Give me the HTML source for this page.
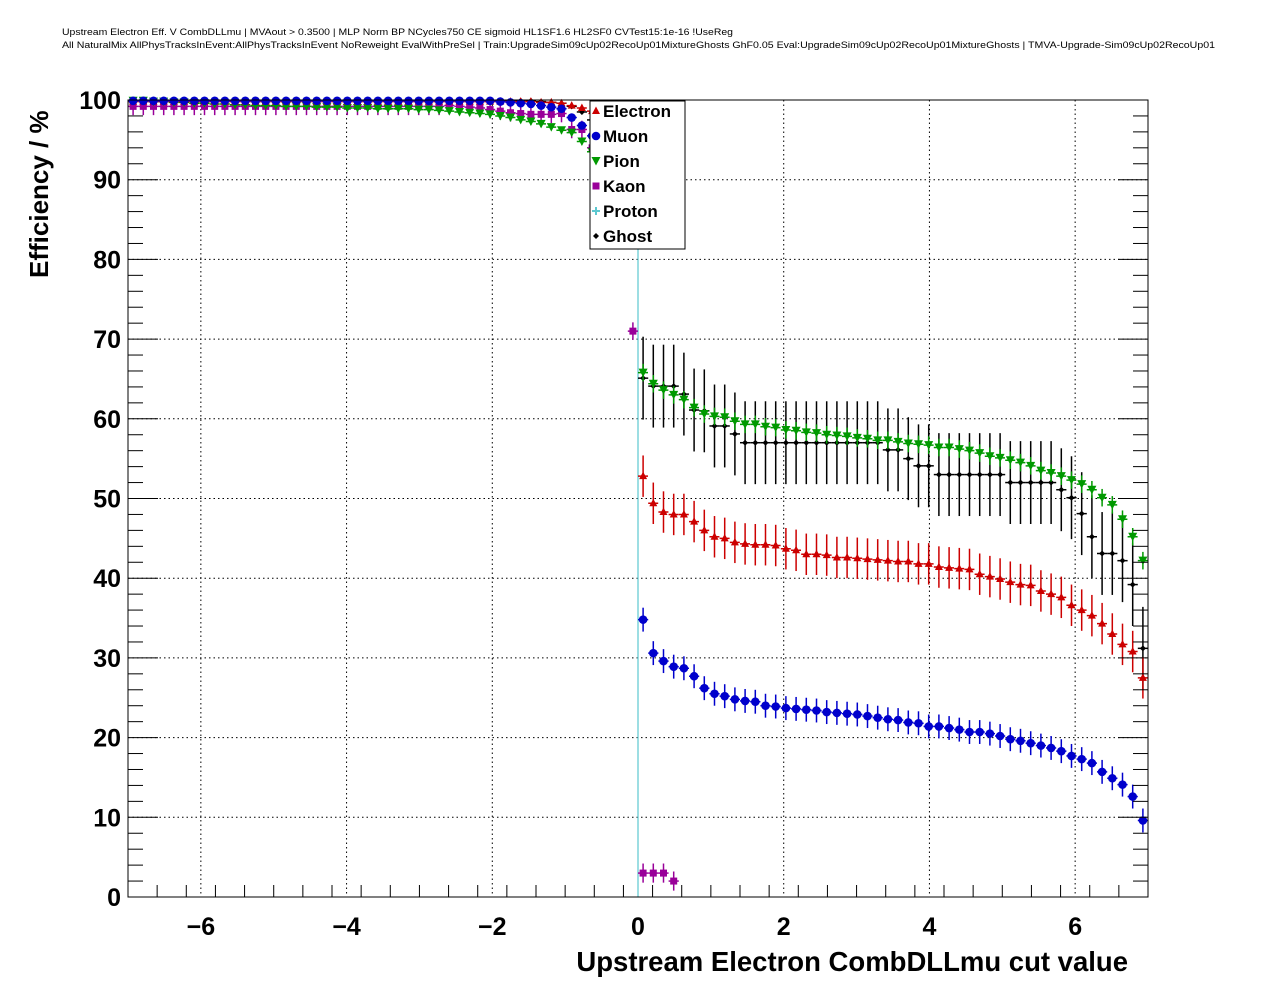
<!DOCTYPE html>
<html><head><meta charset="utf-8"><style>
html,body{margin:0;padding:0;background:#fff}
svg{display:block;font-family:"Liberation Sans",Arial,sans-serif}
</style></head><body>
<svg id="chart" width="1276" height="996" viewBox="0 0 1276 996" xmlns="http://www.w3.org/2000/svg">
<text x="62" y="35" font-size="9" textLength="671" lengthAdjust="spacingAndGlyphs">Upstream Electron Eff. V CombDLLmu | MVAout &gt; 0.3500 | MLP Norm BP NCycles750 CE sigmoid HL1SF1.6 HL2SF0 CVTest15:1e-16 !UseReg</text>
<text x="62" y="48" font-size="9" textLength="1153" lengthAdjust="spacingAndGlyphs">All NaturalMix AllPhysTracksInEvent:AllPhysTracksInEvent NoReweight EvalWithPreSel | Train:UpgradeSim09cUp02RecoUp01MixtureGhosts GhF0.05 Eval:UpgradeSim09cUp02RecoUp01MixtureGhosts | TMVA-Upgrade-Sim09cUp02RecoUp01</text>
<rect x="128" y="100" width="1020" height="797" fill="#fff"/>
<g id="grid"></g>
<g id="marks"></g>
<rect x="128" y="100" width="1020" height="797" fill="none" stroke="#000" stroke-width="1"/>
<g id="axes"></g>
<text x="1128" y="971" font-size="27.5" font-weight="bold" text-anchor="end">Upstream Electron CombDLLmu cut value</text>
<text transform="translate(48,278) rotate(-90)" font-size="26" font-weight="bold">Efficiency / %</text>
<g id="legend"></g>
</svg>
<script>
const xTicks = [-6,-4,-2,0,2,4,6];
const xTickLabels = ["\u22126","\u22124","\u22122","0","2","4","6"];
const yTicks = [0,10,20,30,40,50,60,70,80,90,100];
const binWidth = 0.14;
const nBins = 100;
const electronNeg = [99.8,99.8,99.8,99.8,99.8,99.8,99.8,99.8,99.8,99.8,99.8,99.8,99.8,99.8,99.8,99.8,99.8,99.8,99.8,99.8,99.8,99.8,99.8,99.8,99.8,99.8,99.8,99.8,99.8,99.8,99.8,99.8,99.8,99.8,99.8,99.8,99.8,99.8,99.8,99.8,99.7,99.7,99.6,99.3,99.0,98.6,98.2,97.8,97.4,97.0];
const electronPos = [52.8,49.4,48.3,48.0,48.0,47.1,46.0,45.2,45.0,44.5,44.3,44.2,44.2,44.1,43.7,43.5,43.0,43.0,42.9,42.6,42.6,42.5,42.4,42.3,42.2,42.1,42.1,41.8,41.8,41.4,41.3,41.2,41.1,40.5,40.2,39.9,39.5,39.2,39.1,38.4,38.0,37.6,36.6,36.0,35.3,34.3,33.0,31.7,30.8,27.5];
const muonNeg = [99.9,99.9,99.9,99.9,99.9,99.9,99.9,99.9,99.9,99.9,99.9,99.9,99.9,99.9,99.9,99.9,99.9,99.9,99.9,99.9,99.9,99.9,99.9,99.9,99.9,99.9,99.9,99.9,99.9,99.9,99.9,99.9,99.9,99.9,99.9,99.9,99.8,99.7,99.6,99.5,99.3,99.1,98.9,97.8,96.8,95.5,94.0,92.0,90.0,88.0];
const muonPos = [34.8,30.6,29.6,28.9,28.7,27.7,26.2,25.5,25.2,24.8,24.6,24.5,24.0,23.9,23.7,23.6,23.5,23.4,23.2,23.1,23.0,22.9,22.7,22.5,22.3,22.2,21.9,21.8,21.4,21.4,21.2,21.0,20.7,20.7,20.5,20.2,19.8,19.6,19.3,19.0,18.7,18.3,17.7,17.3,16.8,15.7,14.9,14.1,12.6,9.6];
const pionNeg = [99.9,99.9,99.8,99.8,99.7,99.7,99.6,99.6,99.5,99.5,99.4,99.4,99.3,99.3,99.3,99.2,99.2,99.2,99.1,99.1,99.1,99.0,99.0,99.0,98.9,98.9,98.9,98.9,98.8,98.8,98.7,98.6,98.5,98.4,98.3,98.2,98.0,97.8,97.5,97.3,97.0,96.6,96.2,95.9,94.8,93.5,92.0,90.0,88.0,86.0];
const pionPos = [65.8,64.4,63.6,63.0,62.4,61.4,60.6,60.3,60.2,59.7,59.3,59.3,59.0,58.9,58.6,58.5,58.3,58.2,58.0,57.9,57.8,57.6,57.5,57.3,57.3,57.1,56.9,56.8,56.7,56.4,56.4,56.2,56.0,55.7,55.3,55.1,54.8,54.5,54.1,53.5,53.2,52.8,52.3,51.8,51.1,50.1,49.2,47.4,45.2,42.2];
const kaonNeg = [99.2,99.2,99.2,99.2,99.2,99.2,99.2,99.2,99.2,99.2,99.2,99.2,99.2,99.2,99.2,99.2,99.2,99.2,99.2,99.2,99.2,99.2,99.2,99.2,99.2,99.2,99.2,99.2,99.2,99.2,99.2,99.3,99.2,99.1,99.0,98.8,98.6,98.4,98.3,98.2,98.2,98.2,98.3,96.3,96.3,94.0,92.0,90.0,88.0,71.0];
const kaonPos = [3.0,3.0,3.0,2.0];
const ghostNeg = [99.9,99.9,99.9,99.9,99.9,99.9,99.9,99.9,99.9,99.9,99.9,99.9,99.9,99.9,99.9,99.9,99.9,99.9,99.9,99.9,99.9,99.9,99.9,99.9,99.9,99.9,99.9,99.9,99.9,99.9,99.9,99.9,99.9,99.9,99.9,99.9,99.9,99.9,99.9,99.9,99.8,99.7,99.6,99.2,98.5,97.5,96.5,95.0,93.0,90.0];
const ghostPos = [65.1,64.1,64.1,64.1,63.1,61.1,61.0,59.1,59.1,58.1,57.0,57.0,57.0,57.0,57.0,57.0,57.0,57.0,57.0,57.0,57.0,57.0,57.0,57.0,56.1,56.1,55.0,54.1,54.1,53.0,53.0,53.0,53.0,53.0,53.0,53.0,52.0,52.0,52.0,52.0,52.0,51.1,50.1,48.1,45.2,43.1,43.1,42.2,39.2,31.2];
const errNeg = {electron:0.3, muon:0.3, pion:0.4, kaon:1.1, ghost:0.3};
const errPos = {electron:2.6, muon:1.5, pion:1.1, kaon:1.2, ghost:5.2};

const NS = "http://www.w3.org/2000/svg";
const X = v => 128 + (v + 7) * 1020 / 14;
const Y = v => 897 - v * 7.97;
function mk(tag, attrs, parent){ const e=document.createElementNS(NS,tag); for(const k in attrs) e.setAttribute(k,attrs[k]); parent.appendChild(e); return e; }
const grid=document.getElementById('grid'), axes=document.getElementById('axes'), marks=document.getElementById('marks'), legend=document.getElementById('legend');

xTicks.forEach((t,i)=>{
  if(t!==0){ const g=mk('line',{x1:X(t),x2:X(t),y1:100,y2:897,stroke:'#000','stroke-dasharray':'1.5,3','stroke-width':1},grid);
    }
  const l=mk('text',{x:X(t),y:935,'font-size':25,'font-weight':'bold','text-anchor':'middle'},axes);
  l.textContent=xTickLabels[i];
   
});
for(let v=-7; v<=7.001; v+=0.4){
  const major = Math.abs(Math.round(v/2)*2 - v) < 0.01;
  const tk=mk('line',{x1:X(v),x2:X(v),y1:897,y2:major?873:885,stroke:'#000'},axes);
   
}
yTicks.forEach(t=>{
  if(t>0 && t<100){ const g=mk('line',{x1:128,x2:1148,y1:Y(t),y2:Y(t),stroke:'#000','stroke-dasharray':'1.5,3','stroke-width':1},grid);
    }
  const l=mk('text',{x:121,y:Y(t)+9,'font-size':25,'font-weight':'bold','text-anchor':'end'},axes);
  l.textContent=String(t);
   
});
for(let v=0; v<=100; v+=2){
  const major = v%10===0;
  const a=mk('line',{x1:128,x2:major?158:143,y1:Y(v),y2:Y(v),stroke:'#000'},axes);
   
  const b=mk('line',{x1:1148,x2:major?1118:1133,y1:Y(v),y2:Y(v),stroke:'#000'},axes);
   
}
const zl=mk('line',{x1:X(0),x2:X(0),y1:100,y2:897,stroke:'#5cc8d0','stroke-width':1.2},marks);
 

function marker(type,cx,cy,col,parent){
  let e;
  if(type==='tri') e=mk('polygon',{points:`${cx},${cy-4.5} ${cx-4},${cy+3} ${cx+4},${cy+3}`,fill:col},parent);
  else if(type==='circ') e=mk('circle',{cx:cx,cy:cy,r:4.3,fill:col},parent);
  else if(type==='dtri') e=mk('polygon',{points:`${cx-4.5},${cy-4} ${cx+4.5},${cy-4} ${cx},${cy+4.5}`,fill:col},parent);
  else if(type==='sq') e=mk('rect',{x:cx-3.5,y:cy-3.5,width:7,height:7,fill:col},parent);
  else if(type==='cross') e=mk('path',{d:`M${cx-4},${cy}H${cx+4}M${cx},${cy-4}V${cy+4}`,stroke:col,'stroke-width':2},parent);
  else e=mk('polygon',{points:`${cx},${cy-3} ${cx+3},${cy} ${cx},${cy+3} ${cx-3},${cy}`,fill:col},parent);
  return e;
}
const series=[
  {name:'kaon',neg:kaonNeg,pos:kaonPos,col:'#990099',m:'sq'},
  {name:'ghost',neg:ghostNeg,pos:ghostPos,col:'#000',m:'dia'},
  {name:'pion',neg:pionNeg,pos:pionPos,col:'#009900',m:'dtri',dash:true},
  {name:'electron',neg:electronNeg,pos:electronPos,col:'#cc0000',m:'tri',dash:true},
  {name:'muon',neg:muonNeg,pos:muonPos,col:'#0000cc',m:'circ'}
];
series.forEach(s=>{
  const g=mk('g',{},marks);
   
  const draw=(vals,start,err)=>{
    vals.forEach((v,i)=>{
      const c=-7+binWidth*(start+i)+binWidth/2;
      const cx=X(c), cy=Y(v);
      mk('line',{x1:X(c-binWidth/2),x2:X(c+binWidth/2),y1:cy,y2:cy,stroke:s.col,'stroke-width':1.5,'stroke-dasharray':s.dash?'4,2':'none'},g);
      mk('line',{x1:cx,x2:cx,y1:Y(Math.min(100,v+err)),y2:Y(Math.max(0,v-err)),stroke:s.col,'stroke-width':1.5},g);
      const mm=marker(s.m,cx,cy,s.col,g);
       
    });
  };
  draw(s.neg,0,errNeg[s.name]);
  draw(s.pos,50,errPos[s.name]);
});

mk('rect',{x:590,y:101,width:95,height:148,fill:'#fff',stroke:'#000','stroke-width':1},legend);
const ents=[['Electron','tri','#cc0000'],['Muon','circ','#0000cc'],['Pion','dtri','#009900'],['Kaon','sq','#990099'],['Proton','cross','#5cc8d0'],['Ghost','dia','#000']];
ents.forEach((e,i)=>{
  const y=111+i*25;
  const g=mk('g',{},legend);
   
  marker(e[1],596,y,e[2],g);
  const t=mk('text',{x:603,y:y+6,'font-size':17,'font-weight':'bold'},g);
  t.textContent=e[0];
});
</script>
</body></html>
